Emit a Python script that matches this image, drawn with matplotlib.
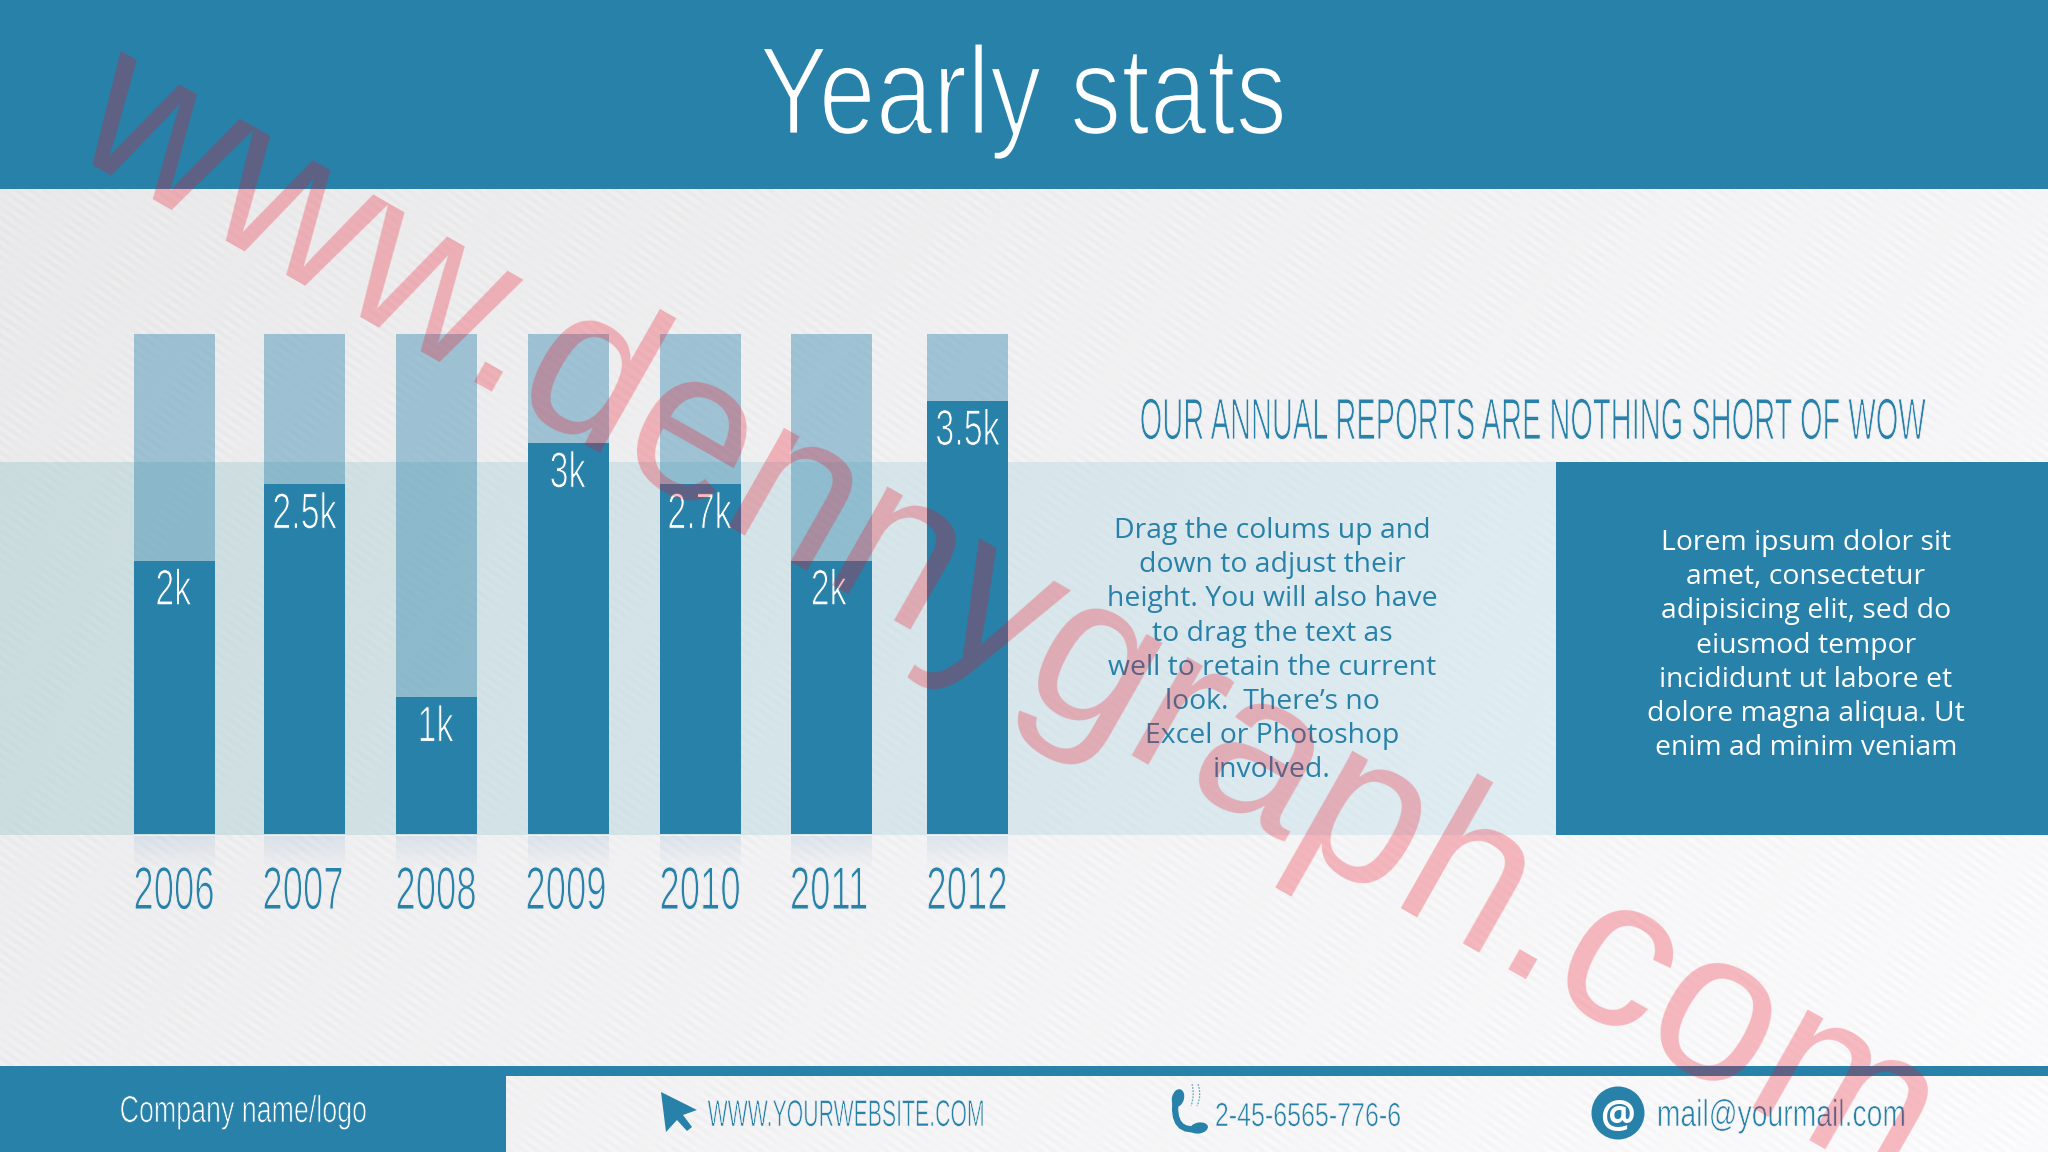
import numpy as np
import matplotlib
matplotlib.use("Agg")
import matplotlib.pyplot as plt
from matplotlib import font_manager as fm
from matplotlib.patches import Rectangle, Polygon, Circle, PathPatch, Ellipse
from matplotlib.path import Path
from matplotlib.patheffects import AbstractPathEffect
from matplotlib.transforms import Affine2D

# ---- data ----
years = ["2006", "2007", "2008", "2009", "2010", "2011", "2012"]
bar_labels = ["2k", "2.5k", "1k", "3k", "2.7k", "2k", "3.5k"]
bar_heights = [2.0, 2.56, 1.0, 2.86, 2.56, 2.0, 3.17]
track_height = 3.66
bar_centres = [174.3, 304.5, 436.5, 568.6, 700.6, 831.7, 967.6]
year_centres = [174, 303, 436, 566, 700, 829, 967]
label_nudges = [-1, 0, -1, -1, -1, -3, 0]
bar_width = 80.6

title = "Yearly stats"
subtitle = "OUR ANNUAL REPORTS ARE NOTHING SHORT OF WOW"
body_left = ["Drag the colums up and", "down to adjust their", "height. You will also have",
             "to drag the text as", "well to retain the current", "look.  There\u2019s no",
             "Excel or Photoshop", "involved."]
body_right = ["Lorem ipsum dolor sit", "amet, consectetur", "adipisicing elit, sed do",
              "eiusmod tempor", "incididunt ut labore et", "dolore magna aliqua. Ut",
              "enim ad minim veniam"]
company = "Company name/logo"
website = "WWW.YOURWEBSITE.COM"
phone = "2-45-6565-776-6"
mail = "mail@yourmail.com"
watermark = "www.dennygraph.com"

BLUE = "#2781a9"
W, H = 2048, 1152

names = {f.name for f in fm.fontManager.ttflist}
NARROW = "Liberation Sans Narrow" if "Liberation Sans Narrow" in names else "Liberation Sans"


class Slim(AbstractPathEffect):
    """Draws text taller about its baseline, and eats into the strokes."""
    def __init__(self, sy=1.0, erode=0.0, bg="white"):
        super().__init__()
        self.sy, self.erode, self.bg = sy, erode, bg

    def draw_path(self, renderer, gc, tpath, affine, rgbFace=None):
        tx, ty = affine.get_matrix()[0, 2], affine.get_matrix()[1, 2]
        aff = affine + Affine2D().translate(-tx, -ty).scale(1, self.sy).translate(tx, ty)
        renderer.draw_path(gc, tpath, aff, rgbFace)
        if self.erode > 0:
            gc0 = renderer.new_gc()
            gc0.copy_properties(gc)
            gc0.set_foreground(self.bg)
            gc0.set_linewidth(self.erode)
            renderer.draw_path(gc0, tpath, aff, None)
            gc0.restore()


fig = plt.figure(figsize=(W / 100, H / 100), dpi=100)

# ---- page background in pixel coordinates ----
bg = fig.add_axes([0, 0, 1, 1], zorder=0)
bg.axis("off")
yy, xx = np.mgrid[0:H, 0:W]
a = np.deg2rad(35)
phase = (xx * np.sin(a) - yy * np.cos(a)) / 8.0
along = (xx * np.cos(a) + yy * np.sin(a)) / 60.0
base = 232 + 12 * (xx / W) + 7 * (yy / H) + 3.2 * np.sin(2 * np.pi * phase) * (0.6 + 0.4 * np.sin(2 * np.pi * along))
img = np.dstack([base, base, base + 1.5]) / 255
band = (yy >= 462) & (yy < 835)
mix = (xx / 1556)[..., None]
band_col = np.array([206, 223, 225]) * (1 - mix) + np.array([220, 233, 239]) * mix
img[band] = ((band_col + (base[..., None] - 240) * 0.6) / 255)[band]
bg.imshow(np.clip(img, 0, 1), extent=(0, W, H, 0), aspect="auto", interpolation="nearest")
for x, y, w, h in [(0, 0, W, 189), (1556, 462, W - 1556, 373), (0, 1066, W, 10), (0, 1066, 506, 86)]:
    bg.add_patch(Rectangle((x, y), w, h, color=BLUE, lw=0))
# soft reflections under the columns
grad = np.zeros((32, 2, 4))
grad[..., :3] = matplotlib.colors.to_rgb("#6f9cc4")
grad[..., 3] = np.linspace(0.16, 0, 32)[:, None]
for c in bar_centres:
    bg.imshow(grad, extent=(c - bar_width / 2, c + bar_width / 2, 870, 836), aspect="auto")
bg.set_xlim(0, W)
bg.set_ylim(H, 0)

# ---- columns ----
ax = fig.add_axes([0, (H - 834) / H, 1024 / W, 500 / H], zorder=1)
ax.set_xlim(0, 1024)
ax.set_ylim(0, track_height)
ax.axis("off")
ax.bar(bar_centres, [track_height] * len(years), width=bar_width, color=BLUE, alpha=0.40, lw=0)
ax.bar(bar_centres, bar_heights, width=bar_width, color=BLUE, lw=0)
for c, h, lab, n in zip(bar_centres, bar_heights, bar_labels, label_nudges):
    ax.annotate(lab, (c, h), xytext=(n * 0.72, -31.7), textcoords="offset points", ha="center", va="baseline",
                color="white", family=NARROW, fontsize=24.5, path_effects=[Slim(1.48, 0.7, BLUE)])

# ---- text and furniture ----
ov = fig.add_axes([0, 0, 1, 1], zorder=2)
ov.set_xlim(0, W)
ov.set_ylim(H, 0)
ov.axis("off")
ov.patch.set_alpha(0)

for c, y in zip(year_centres, years):
    ov.text(c, 909, y, ha="center", va="baseline", color=BLUE, family=NARROW, fontsize=26.3,
            path_effects=[Slim(1.65, 0.7, "#eeeef0")])
ov.text(1023, 134, title, ha="center", va="baseline", color="white", family=NARROW, fontsize=74,
        path_effects=[Slim(1.22, 2.0, BLUE)])
ov.text(1532, 439, subtitle, ha="center", va="baseline", color=BLUE, family=NARROW, fontsize=20.9,
        path_effects=[Slim(2.0, 0.6, "#f2f2f4")])

for i, line in enumerate(body_left):
    ov.text(1272, 538 + i * 34.2, line, ha="center", va="baseline", color=BLUE, family="Open Sans", fontsize=20.4)
for i, line in enumerate(body_right):
    ov.text(1806, 550 + i * 34.2, line, ha="center", va="baseline", color="white", family="Open Sans", fontsize=20.4)

ov.text(243, 1122, company, ha="center", va="baseline", color="white", family=NARROW, fontsize=19.3,
        path_effects=[Slim(1.4, 0.5, BLUE)])
ov.text(846, 1126, website, ha="center", va="baseline", color=BLUE, family=NARROW, fontsize=15.3,
        path_effects=[Slim(1.75, 0.4, "#f7f7f8")])
ov.text(1308, 1126, phone, ha="center", va="baseline", color=BLUE, family=NARROW, fontsize=18,
        path_effects=[Slim(1.33, 0.4, "#f7f7f8")])
ov.text(1782, 1126, mail, ha="center", va="baseline", color=BLUE, family=NARROW, fontsize=20.4,
        path_effects=[Slim(1.32, 0.45, "#f7f7f8")])

# icons
ov.add_patch(Polygon([(661, 1092), (697, 1110), (683, 1115), (692, 1127), (687, 1131),
                      (677, 1120), (666, 1132)], closed=True, color=BLUE, lw=0))
ov.add_patch(PathPatch(Path([(1176, 1097), (1170, 1136), (1202, 1128)],
                            [Path.MOVETO, Path.CURVE3, Path.CURVE3]),
                       fc="none", ec=BLUE, lw=4.5, capstyle="round"))
ov.add_patch(Ellipse((1178, 1098), 12, 18, angle=15, color=BLUE, lw=0))
ov.add_patch(Ellipse((1199, 1128), 18, 11, angle=-10, color=BLUE, lw=0))
for x0, dx in ((1192, 3), (1198, 4)):
    ov.add_patch(PathPatch(Path([(x0, 1084), (x0 + dx, 1095), (x0 - 1, 1106)],
                                [Path.MOVETO, Path.CURVE3, Path.CURVE3]),
                           fc="none", ec="#6fa6c0", lw=0.9, ls=(0, (1.5, 1))))
ov.add_patch(Circle((1618, 1113), 26.5, color=BLUE, lw=0))
ov.text(1618, 1113, "@", ha="center", va="center_baseline", color="white", family="Open Sans",
        fontweight="bold", fontsize=28)

# watermark
ov.text(64, 149, watermark, rotation=-29.6, rotation_mode="anchor", ha="left", va="baseline",
        color=(240 / 255, 14 / 255, 36 / 255), alpha=0.28, family="Liberation Sans", fontsize=154,
        transform_rotates_text=False)

fig.savefig("out.png", dpi=100)
